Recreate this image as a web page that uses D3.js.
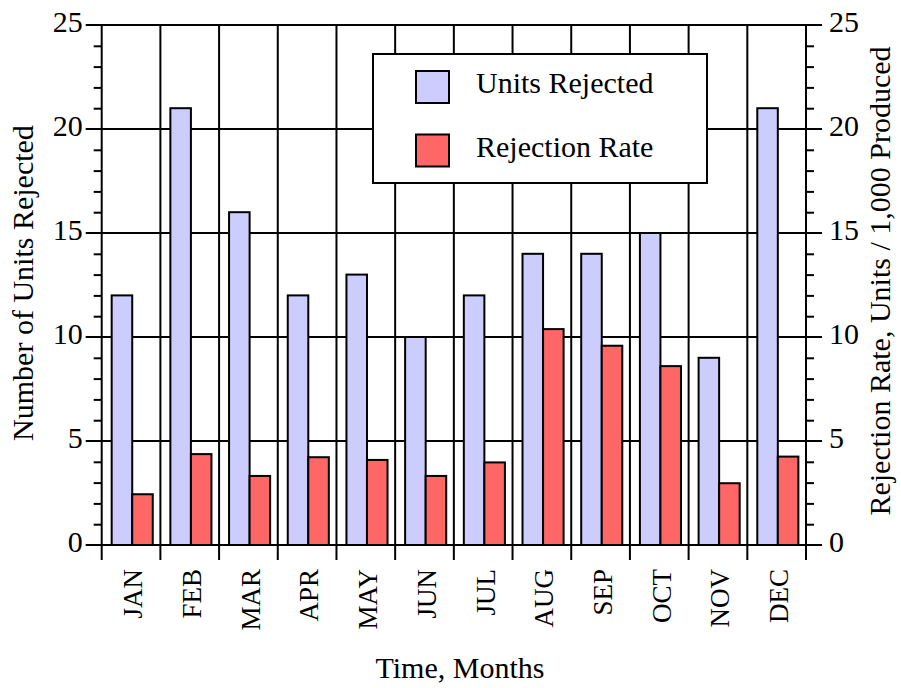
<!DOCTYPE html>
<html>
<head>
<meta charset="utf-8">
<script src="https://d3js.org/d3.v7.min.js"></script>
<style>
  body { margin: 0; background: #fff; }
  svg, svg text { font-family: 'Liberation Serif', Tinos, 'Times New Roman', Times, 'DejaVu Serif', serif !important; fill: #000; }
</style>
</head>
<body>
<svg id="chart" width="901" height="688"></svg>
<script>
  const months = ["JAN", "FEB", "MAR", "APR", "MAY", "JUN", "JUL", "AUG", "SEP", "OCT", "NOV", "DEC"];
  const unitsRejected = [12, 21, 16, 12, 13, 10, 12, 14, 14, 15, 9, 21];
  const rejectionRate = [2.44, 4.37, 3.32, 4.22, 4.09, 3.32, 3.97, 10.38, 9.58, 8.6, 2.97, 4.25];
  const leftTicks = [0, 5, 10, 15, 20, 25];
  const rightTicks = [0, 5, 10, 15, 20, 25];
  const seriesNames = ["Units Rejected", "Rejection Rate"];
  const seriesColors = ["#ccccff", "#ff6666"];

  const margin = { top: 25, right: 95, bottom: 143, left: 101.7 };
  const svg = d3.select("#chart"),
    W = +svg.attr("width"),
    H = +svg.attr("height"),
    plotLeft = margin.left,
    plotRight = W - margin.right,
    plotTop = margin.top,
    plotBottom = H - margin.bottom;

  const serif = "'Liberation Serif', Tinos, 'Times New Roman', Times, 'DejaVu Serif', serif";

  const x0 = d3.scaleBand().domain(months).range([plotLeft, plotRight]).padding(0);
  const x1 = d3.scaleBand().domain(seriesNames)
    .range([x0.bandwidth() * 0.17, x0.bandwidth() * 0.87]).padding(0);
  const yL = d3.scaleLinear().domain([0, 25]).range([plotBottom, plotTop]);
  const yR = d3.scaleLinear().domain([0, 25]).range([plotBottom, plotTop]);

  const data = months.map((m, i) => ({
    month: m,
    values: [
      { key: seriesNames[0], value: unitsRejected[i], scale: yL, color: seriesColors[0] },
      { key: seriesNames[1], value: rejectionRate[i], scale: yR, color: seriesColors[1] }
    ]
  }));

  // horizontal gridlines (extend out as major ticks on both sides)
  svg.append("g")
    .selectAll("line")
    .data(leftTicks)
    .join("line")
    .attr("x1", plotLeft - 16)
    .attr("x2", plotRight + 16)
    .attr("y1", d => yL(d))
    .attr("y2", d => yL(d))
    .attr("stroke", "#000")
    .attr("stroke-width", 2);

  // vertical separators between months, extending below the axis
  const edges = months.map(m => x0(m)).concat([plotRight]);
  svg.append("g")
    .selectAll("line")
    .data(edges)
    .join("line")
    .attr("x1", d => d)
    .attr("x2", d => d)
    .attr("y1", plotTop)
    .attr("y2", plotBottom + 15)
    .attr("stroke", "#000")
    .attr("stroke-width", 2);

  // minor ticks
  const minor = d3.range(0, 26).filter(v => v % 5 !== 0);
  svg.append("g")
    .attr("transform", `translate(${plotLeft},0)`)
    .call(d3.axisLeft(yL).tickValues(minor).tickSize(8).tickFormat(""))
    .call(g => g.select(".domain").remove())
    .selectAll("line").attr("stroke-width", 2);
  svg.append("g")
    .attr("transform", `translate(${plotRight},0)`)
    .call(d3.axisRight(yR).tickValues(minor).tickSize(8).tickFormat(""))
    .call(g => g.select(".domain").remove())
    .selectAll("line").attr("stroke-width", 2);

  // tick labels
  svg.append("g")
    .attr("transform", `translate(${plotLeft},0)`)
    .call(d3.axisLeft(yL).tickValues(leftTicks).tickSize(0).tickPadding(19))
    .attr("font-family", serif)
    .call(g => g.select(".domain").remove())
    .selectAll("text")
    .attr("font-size", 30)
    .attr("dy", "0.22em");
  svg.append("g")
    .attr("transform", `translate(${plotRight},0)`)
    .call(d3.axisRight(yR).tickValues(rightTicks).tickSize(0).tickPadding(23))
    .attr("font-family", serif)
    .call(g => g.select(".domain").remove())
    .selectAll("text")
    .attr("font-size", 30)
    .attr("dy", "0.22em");

  // bars
  const groups = svg.append("g")
    .selectAll("g")
    .data(data)
    .join("g")
    .attr("transform", d => `translate(${x0(d.month)},0)`);

  groups.selectAll("rect")
    .data(d => d.values)
    .join("rect")
    .attr("x", d => x1(d.key))
    .attr("width", x1.bandwidth())
    .attr("y", d => d.scale(d.value))
    .attr("height", d => plotBottom - d.scale(d.value))
    .attr("fill", d => d.color)
    .attr("stroke", "#000")
    .attr("stroke-width", 2);

  // month labels
  svg.append("g")
    .selectAll("text")
    .data(months)
    .join("text")
    .attr("transform", d => `translate(${x0(d) + x0.bandwidth() / 2},569) rotate(-90)`)
    .attr("dy", "0.42em")
    .attr("text-anchor", "end")
    .attr("font-family", serif)
    .attr("font-size", 27)
    .text(d => d);

  // axis titles
  svg.append("text")
    .attr("x", 460)
    .attr("y", 678)
    .attr("text-anchor", "middle")
    .attr("font-family", serif)
    .attr("font-size", 30)
    .text("Time, Months");

  svg.append("text")
    .attr("transform", "translate(33,283) rotate(-90)")
    .attr("text-anchor", "middle")
    .attr("font-family", serif)
    .attr("font-size", 30)
    .text("Number of Units Rejected");

  svg.append("text")
    .attr("transform", "translate(890,281) rotate(-90)")
    .attr("text-anchor", "middle")
    .attr("font-family", serif)
    .attr("font-size", 30)
    .text("Rejection Rate, Units / 1,000 Produced");

  // legend
  const legend = svg.append("g").attr("transform", "translate(373,54)");
  legend.append("rect")
    .attr("width", 334)
    .attr("height", 129)
    .attr("fill", "#fff")
    .attr("stroke", "#000")
    .attr("stroke-width", 2);

  const item = legend.selectAll(".item")
    .data(seriesNames)
    .join("g")
    .attr("class", "item")
    .attr("transform", (d, i) => `translate(0,${17 + i * 63.5})`);

  item.append("rect")
    .attr("x", 43)
    .attr("width", 33)
    .attr("height", 32)
    .attr("fill", (d, i) => seriesColors[i])
    .attr("stroke", "#000")
    .attr("stroke-width", 2);

  item.append("text")
    .attr("x", 103)
    .attr("y", 22)
    .attr("font-family", serif)
    .attr("font-size", 30)
    .text(d => d);
</script>
</body>
</html>
